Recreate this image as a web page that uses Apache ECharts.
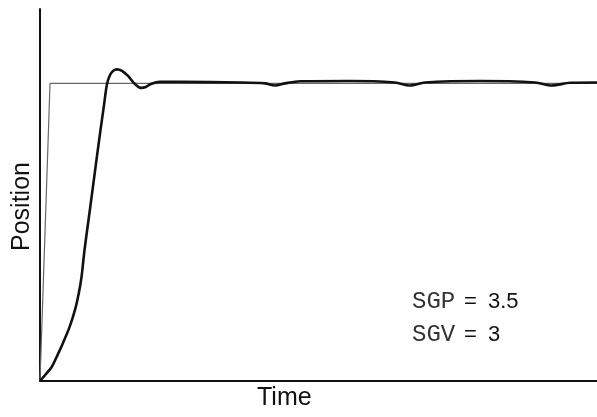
<!DOCTYPE html>
<html>
<head>
<meta charset="utf-8">
<script src="https://cdn.jsdelivr.net/npm/echarts@6/dist/echarts.min.js"></script>
<style>
  html, body { margin: 0; padding: 0; background: #fff; }
  #main { width: 597px; height: 417px; }
</style>
</head>
<body>
<div id="main"></div>
<script>
// setpoint (thin step) and measured response (thick line), time in arbitrary units
var setTime = [0, 0.18, 10];
var setPos = [0, 1, 1];

var respTime = [0, 0.108, 0.210, 0.314, 0.413, 0.530, 0.628, 0.697, 0.745, 0.799, 0.871, 0.943, 1.014, 1.086, 1.149, 1.203,
  1.257, 1.311, 1.382, 1.472, 1.58, 1.688, 1.81, 1.90, 1.99, 2.15, 2.51, 3.59, 4.04, 4.22, 4.40, 4.67, 5.57, 6.37, 6.64,
  6.91, 7.90, 8.89, 9.19, 9.52, 10];
var respPos = [0, 0.0235, 0.047, 0.087, 0.128, 0.181, 0.239, 0.296, 0.349, 0.440, 0.541, 0.642, 0.743, 0.843, 0.927, 0.998,
  1.028, 1.042, 1.047, 1.042, 1.025, 1.001, 0.985, 0.988, 0.998, 1.005, 1.005, 1.003, 1.0, 0.993, 1.0, 1.007, 1.008, 1.003, 0.993,
  1.003, 1.008, 1.003, 0.993, 1.002, 1.003];

var gainNames = ['SGP', 'SGV'];
var gainValues = ['3.5', '3'];

function pairs(xs, ys) {
  return xs.map(function (x, i) { return [x, ys[i]]; });
}

var myChart = echarts.init(document.getElementById('main'));

var texts = [];
gainNames.forEach(function (name, i) {
  var top = 290 + i * 33;
  texts.push({
    type: 'text',
    x: 412,
    y: top,
    style: { text: name, fontFamily: 'Liberation Mono', fontSize: 24, fill: '#333' }
  });
  texts.push({
    type: 'text',
    x: 464,
    y: top + 1,
    style: { text: '=', fontFamily: 'Liberation Sans', fontSize: 22, fill: '#111' }
  });
  texts.push({
    type: 'text',
    x: 488,
    y: top + 1,
    style: { text: gainValues[i], fontFamily: 'Liberation Sans', fontSize: 22, fill: '#111' }
  });
});

var option = {
  animation: false,
  backgroundColor: '#fff',
  grid: { left: 40, right: 0, top: 9, bottom: 36 },
  xAxis: {
    type: 'value',
    min: 0,
    max: 10,
    axisLine: { lineStyle: { color: '#111', width: 2 } },
    axisTick: { show: false },
    axisLabel: { show: false },
    splitLine: { show: false }
  },
  yAxis: {
    type: 'value',
    min: 0,
    max: 1.25,
    axisLine: { show: true, lineStyle: { color: '#111', width: 2 } },
    axisTick: { show: false },
    axisLabel: { show: false },
    splitLine: { show: false }
  },
  series: [
    {
      name: 'setpoint',
      type: 'line',
      data: pairs(setTime, setPos),
      symbol: 'none',
      lineStyle: { color: '#666', width: 1.2 }
    },
    {
      name: 'response',
      type: 'line',
      data: pairs(respTime, respPos),
      symbol: 'none',
      smooth: 0.3,
      lineStyle: { color: '#111', width: 2.6 }
    }
  ],
  graphic: [
    {
      type: 'text',
      left: 257,
      top: 386,
      style: { text: 'Time', fontFamily: 'Liberation Sans', fontSize: 25, fill: '#111' }
    },
    {
      type: 'text',
      x: 10,
      y: 251,
      rotation: Math.PI / 2,
      style: { text: 'Position', fontFamily: 'Liberation Sans', fontSize: 25, fill: '#111' }
    }
  ].concat(texts)
};

myChart.setOption(option);
</script>
</body>
</html>
